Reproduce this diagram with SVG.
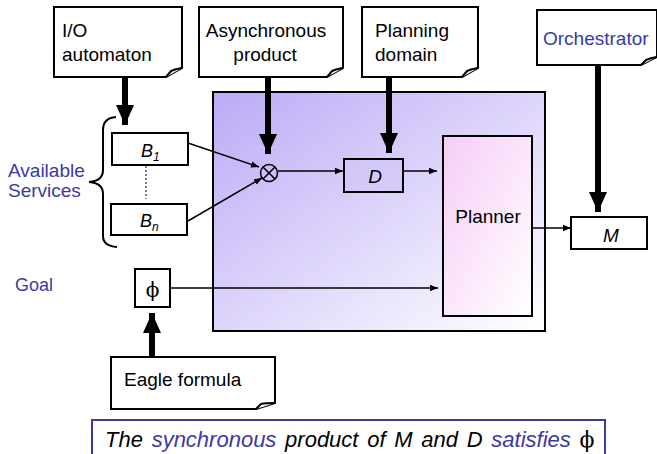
<svg xmlns="http://www.w3.org/2000/svg" width="657" height="454" viewBox="0 0 657 454">
<defs>
<linearGradient id="gBig" x1="0" y1="0" x2="1" y2="1">
<stop offset="0" stop-color="#bcaaf6"/>
<stop offset="1" stop-color="#ffffff"/>
</linearGradient>
<linearGradient id="gPlan" x1="0" y1="0" x2="1" y2="1">
<stop offset="0" stop-color="#f6cdf6"/>
<stop offset="1" stop-color="#ffffff"/>
</linearGradient>
<marker id="thin" viewBox="0 0 10 10" refX="10" refY="5" markerWidth="8" markerHeight="8" markerUnits="userSpaceOnUse" orient="auto">
<path d="M0,1 L10,5 L0,9 Z" fill="#000"/>
</marker>
<marker id="thick" viewBox="0 0 20 20" refX="20" refY="10" markerWidth="20" markerHeight="20" markerUnits="userSpaceOnUse" orient="auto">
<path d="M0,1 L20,10 L0,19 Z" fill="#000"/>
</marker>
</defs>
<style>
text{font-family:"Liberation Sans",Arial,sans-serif;font-size:19px;fill:#000}
.blue{fill:#3a3aa6}
.note{fill:#fff;stroke:#000;stroke-width:2}
.box{fill:#fff;stroke:#000;stroke-width:2}
.it{font-style:italic}
.phi{font-family:"DejaVu Serif",serif;font-style:normal}
.thinl{stroke:#000;stroke-width:1.5;fill:none}
.thickl{stroke:#000;stroke-width:6;fill:none}
</style>

<g id="container">
<rect x="213" y="92" width="332" height="239" fill="url(#gBig)" stroke="#000" stroke-width="2"/>
</g>

<g id="io-automaton">
<path class="note" d="M54,7 H182 V68 L166,77 H54 Z"/>
<path class="note" stroke-width="1.2" d="M166,77 L171,71 Q175,69 182,68"/>
<text x="62" y="37">I/O</text>
<text x="62" y="61">automaton</text>
</g>

<g id="async-product">
<path class="note" d="M199,7 H343 V68 L327,77 H199 Z"/>
<path class="note" stroke-width="1.2" d="M327,77 L332,71 Q336,69 343,68"/>
<text x="266" y="37" text-anchor="middle">Asynchronous</text>
<text x="265" y="61" text-anchor="middle">product</text>
</g>

<g id="planning-domain">
<path class="note" d="M362,7 H478 V68 L462,77 H362 Z"/>
<path class="note" stroke-width="1.2" d="M462,77 L467,71 Q471,69 478,68"/>
<text x="375" y="37">Planning</text>
<text x="375" y="61">domain</text>
</g>

<g id="orchestrator">
<path class="note" d="M537,10 H657 V57 L641,65 H537 Z"/>
<path class="note" stroke-width="1.2" d="M641,65 L646,60 Q650,58 657,57"/>
<text x="543" y="45" class="blue">Orchestrator</text>
</g>

<g id="available-services">
<text x="8" y="177" class="blue">Available</text>
<text x="8" y="197" class="blue">Services</text>
<path d="M116,117 Q103,118 103,130 V170 Q103,181 89,182 Q103,183 103,194 V236 Q103,246 117,247" fill="none" stroke="#000" stroke-width="2"/>
</g>

<g id="b1">
<rect class="box" x="112" y="133" width="76" height="32"/>
<text x="141" y="157" class="it" style="font-size:18px">B<tspan font-size="12" dy="4">1</tspan></text>
</g>

<g id="bn">
<rect class="box" x="111" y="204" width="76" height="31"/>
<text x="140" y="227" class="it" style="font-size:18px">B<tspan font-size="12" dy="4">n</tspan></text>
</g>

<g id="otimes">
<circle cx="269" cy="173" r="8.5" fill="none" stroke="#000" stroke-width="1.5"/>
<path d="M263,167 L275,179 M275,167 L263,179" stroke="#000" stroke-width="1.5"/>
</g>

<g id="d">
<rect x="344" y="159" width="59" height="33" fill="#cfc4f6" fill-opacity="0.5" stroke="#000" stroke-width="2"/>
<text x="375" y="183" class="it" text-anchor="middle">D</text>
</g>

<g id="planner">
<rect x="443" y="136" width="89" height="180" fill="url(#gPlan)" stroke="#000" stroke-width="2"/>
<text x="488" y="223" text-anchor="middle">Planner</text>
</g>

<g id="m">
<rect class="box" x="571" y="217" width="76" height="32"/>
<text x="611" y="242" class="it" text-anchor="middle">M</text>
</g>

<g id="goal">
<text x="15" y="291" class="blue" style="font-size:18px">Goal</text>
</g>

<g id="phi">
<rect class="box" x="135" y="269" width="35" height="38"/>
<text x="152.5" y="297" text-anchor="middle" class="phi" style="font-size:20px">ϕ</text>
</g>

<g id="eagle-formula">
<path class="note" d="M111,357 H275 V403 L256,409 H111 Z"/>
<path class="note" stroke-width="1.2" d="M256,409 L261,404 Q266,403 275,403"/>
<text x="124" y="386">Eagle formula</text>
</g>

<g id="statement">
<rect x="92" y="420" width="513" height="40" fill="#fff" stroke="#3a3aa6" stroke-width="2"/>
<text x="105" y="447" class="it" style="font-size:22px;word-spacing:2.6px">The <tspan class="blue">synchronous</tspan> product of M and D <tspan class="blue">satisfies</tspan> <tspan class="phi">ϕ</tspan></text>
</g>

<g id="connectors">
<line class="thickl" x1="125" y1="78" x2="125" y2="125" marker-end="url(#thick)"/>
<line class="thickl" x1="268" y1="78" x2="268" y2="154" marker-end="url(#thick)"/>
<line class="thickl" x1="389" y1="78" x2="389" y2="153" marker-end="url(#thick)"/>
<line class="thickl" x1="598" y1="66" x2="598" y2="212" marker-end="url(#thick)"/>
<line class="thickl" x1="152" y1="357" x2="152" y2="313" marker-end="url(#thick)"/>
<line class="thinl" x1="188" y1="143" x2="259" y2="167" marker-end="url(#thin)"/>
<line class="thinl" x1="188" y1="221" x2="262" y2="178" marker-end="url(#thin)"/>
<line class="thinl" x1="278" y1="171" x2="343" y2="171" marker-end="url(#thin)"/>
<line class="thinl" x1="403" y1="171" x2="437" y2="171" marker-end="url(#thin)"/>
<line class="thinl" x1="532" y1="228" x2="571" y2="228" marker-end="url(#thin)"/>
<line class="thinl" x1="170" y1="288" x2="438" y2="288" marker-end="url(#thin)"/>
<line x1="146" y1="166" x2="146" y2="199" stroke="#000" stroke-width="1" stroke-dasharray="2,2"/>
</g>
</svg>
